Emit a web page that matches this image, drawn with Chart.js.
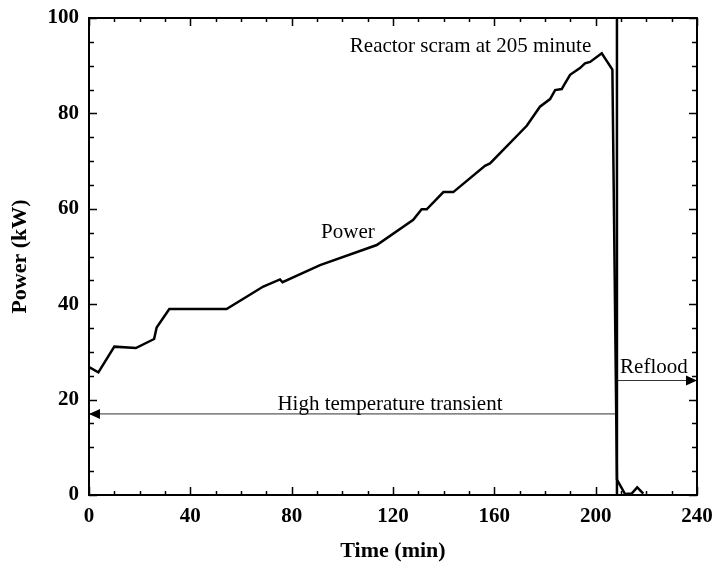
<!DOCTYPE html>
<html lang="en">
<head>
  <meta charset="UTF-8" />
  <title>Reactor Power History</title>
  <script src="https://cdn.jsdelivr.net/npm/chart.js"></script>
  <style>
    html, body { margin: 0; padding: 0; background: #fff; }
  </style>
</head>
<body>
  <canvas id="powerChart" width="717" height="570"></canvas>
  <script>
    // values
    const timeMin = [0, 3.7, 10, 18.5, 25.7, 26.7, 31.7, 54.3, 68.8, 75.4, 76.4, 91.2, 113.6,
      128, 131.3, 133.3, 139.9, 143.8, 156.3, 158.3, 172.8, 178, 182, 184, 186.6, 187.9,
      189.9, 193.8, 195.8, 197.8, 202.4, 206.6, 208.4, 211.6, 214.2, 216.4, 218.8];
    const powerKw = [26.8, 25.7, 31.1, 30.8, 32.7, 35.1, 39.0, 39.0, 43.7, 45.2, 44.6, 48.2, 52.4,
      57.7, 59.9, 59.9, 63.5, 63.5, 69.0, 69.5, 77.4, 81.4, 83.0, 84.9, 85.1, 86.3,
      88.1, 89.5, 90.5, 90.8, 92.6, 89.2, 3.2, 0.2, 0.3, 1.6, 0.3];
    const xTickLabels = [0, 40, 80, 120, 160, 200, 240];
    const yTickLabels = [0, 20, 40, 60, 80, 100];
    const scramTime = 208.4;
    const transientLevel = 17;
    const refloodLevel = 24;

    const serif = "'Liberation Serif', 'Times New Roman', serif";

    const notes = [
      { text: 'Reactor scram at 205 minute', x: 150.6, y: 92.9 },
      { text: 'Power', x: 102.2, y: 53.9 },
      { text: 'High temperature transient', x: 118.8, y: 17.8 },
      { text: 'Reflood', x: 223, y: 25.6 }
    ];

    // keep label overflow from pushing the plot box around
    function noOverflow(s) {
      s.paddingLeft = 0; s.paddingRight = 0; s.paddingTop = 0; s.paddingBottom = 0;
    }

    const framePlugin = {
      id: 'frameAndNotes',
      afterDatasetsDraw(chart) {
        const { ctx, chartArea: a, scales: { x, y } } = chart;
        ctx.save();
        ctx.strokeStyle = '#000';
        ctx.lineWidth = 2;
        ctx.strokeRect(a.left, a.top, a.right - a.left, a.bottom - a.top);

        // inward ticks on all four sides
        ctx.lineWidth = 1.5;
        ctx.beginPath();
        for (let v = 0; v <= 240; v += 10) {
          const px = Math.round(x.getPixelForValue(v)) + 0.5;
          const len = v % 40 === 0 ? 8 : 4;
          ctx.moveTo(px, a.bottom); ctx.lineTo(px, a.bottom - len);
          ctx.moveTo(px, a.top); ctx.lineTo(px, a.top + len);
        }
        for (let v = 0; v <= 100; v += 5) {
          const py = Math.round(y.getPixelForValue(v)) + 0.5;
          const len = v % 20 === 0 ? 8 : 5;
          ctx.moveTo(a.left, py); ctx.lineTo(a.left + len, py);
          ctx.moveTo(a.right, py); ctx.lineTo(a.right - len, py);
        }
        ctx.stroke();

        // arrow heads
        ctx.fillStyle = '#000';
        const tY = y.getPixelForValue(transientLevel);
        const tX = x.getPixelForValue(0);
        ctx.beginPath();
        ctx.moveTo(tX, tY); ctx.lineTo(tX + 11, tY - 5); ctx.lineTo(tX + 11, tY + 5);
        ctx.closePath(); ctx.fill();
        const rY = y.getPixelForValue(refloodLevel);
        const rX = x.getPixelForValue(240);
        ctx.beginPath();
        ctx.moveTo(rX, rY); ctx.lineTo(rX - 11, rY - 5); ctx.lineTo(rX - 11, rY + 5);
        ctx.closePath(); ctx.fill();

        // annotations
        ctx.font = '21px ' + serif;
        ctx.textAlign = 'center';
        ctx.textBaseline = 'alphabetic';
        notes.forEach(n => ctx.fillText(n.text, x.getPixelForValue(n.x), y.getPixelForValue(n.y)));
        ctx.restore();
      }
    };

    new Chart(document.getElementById('powerChart'), {
      type: 'scatter',
      data: {
        datasets: [
          {
            label: 'Power',
            data: timeMin.map((t, i) => ({ x: t, y: powerKw[i] })),
            showLine: true,
            borderColor: '#000',
            borderWidth: 2.5,
            pointRadius: 0,
            tension: 0
          },
          {
            label: 'Scram',
            data: [{ x: scramTime, y: 0 }, { x: scramTime, y: 100 }],
            showLine: true,
            borderColor: '#000',
            borderWidth: 2.5,
            pointRadius: 0
          },
          {
            label: 'Transient',
            data: [{ x: 0, y: transientLevel }, { x: scramTime, y: transientLevel }],
            showLine: true,
            borderColor: '#333',
            borderWidth: 1,
            pointRadius: 0
          },
          {
            label: 'Reflood',
            data: [{ x: scramTime, y: refloodLevel }, { x: 240, y: refloodLevel }],
            showLine: true,
            borderColor: '#333',
            borderWidth: 1,
            pointRadius: 0
          }
        ]
      },
      options: {
        responsive: false,
        animation: false,
        devicePixelRatio: 1,
        layout: { padding: { left: 0, right: 20, top: 18, bottom: 0 } },
        plugins: { legend: { display: false }, tooltip: { enabled: false } },
        scales: {
          x: {
            type: 'linear',
            min: 0,
            max: 240,
            afterFit: s => { s.height = 75; noOverflow(s); },
            afterBuildTicks: s => { s.ticks = xTickLabels.map(v => ({ value: v })); },
            grid: { display: false, drawTicks: false },
            border: { display: false },
            ticks: { color: '#000', padding: 9, font: { family: serif, size: 21, weight: 'bold' } },
            title: {
              display: true, text: 'Time (min)', color: '#000',
              padding: { top: 0, bottom: 5 },
              font: { family: serif, size: 22, weight: 'bold' }
            }
          },
          y: {
            type: 'linear',
            min: 0,
            max: 100,
            afterFit: s => { s.width = 89; noOverflow(s); },
            afterBuildTicks: s => { s.ticks = yTickLabels.map(v => ({ value: v })); },
            grid: { display: false, drawTicks: false },
            border: { display: false },
            ticks: { color: '#000', padding: 10, font: { family: serif, size: 21, weight: 'bold' } },
            title: {
              display: true, text: 'Power (kW)', color: '#000',
              padding: { top: 7, bottom: 0 },
              font: { family: serif, size: 22, weight: 'bold' }
            }
          }
        }
      },
      plugins: [framePlugin]
    });
  </script>
</body>
</html>
